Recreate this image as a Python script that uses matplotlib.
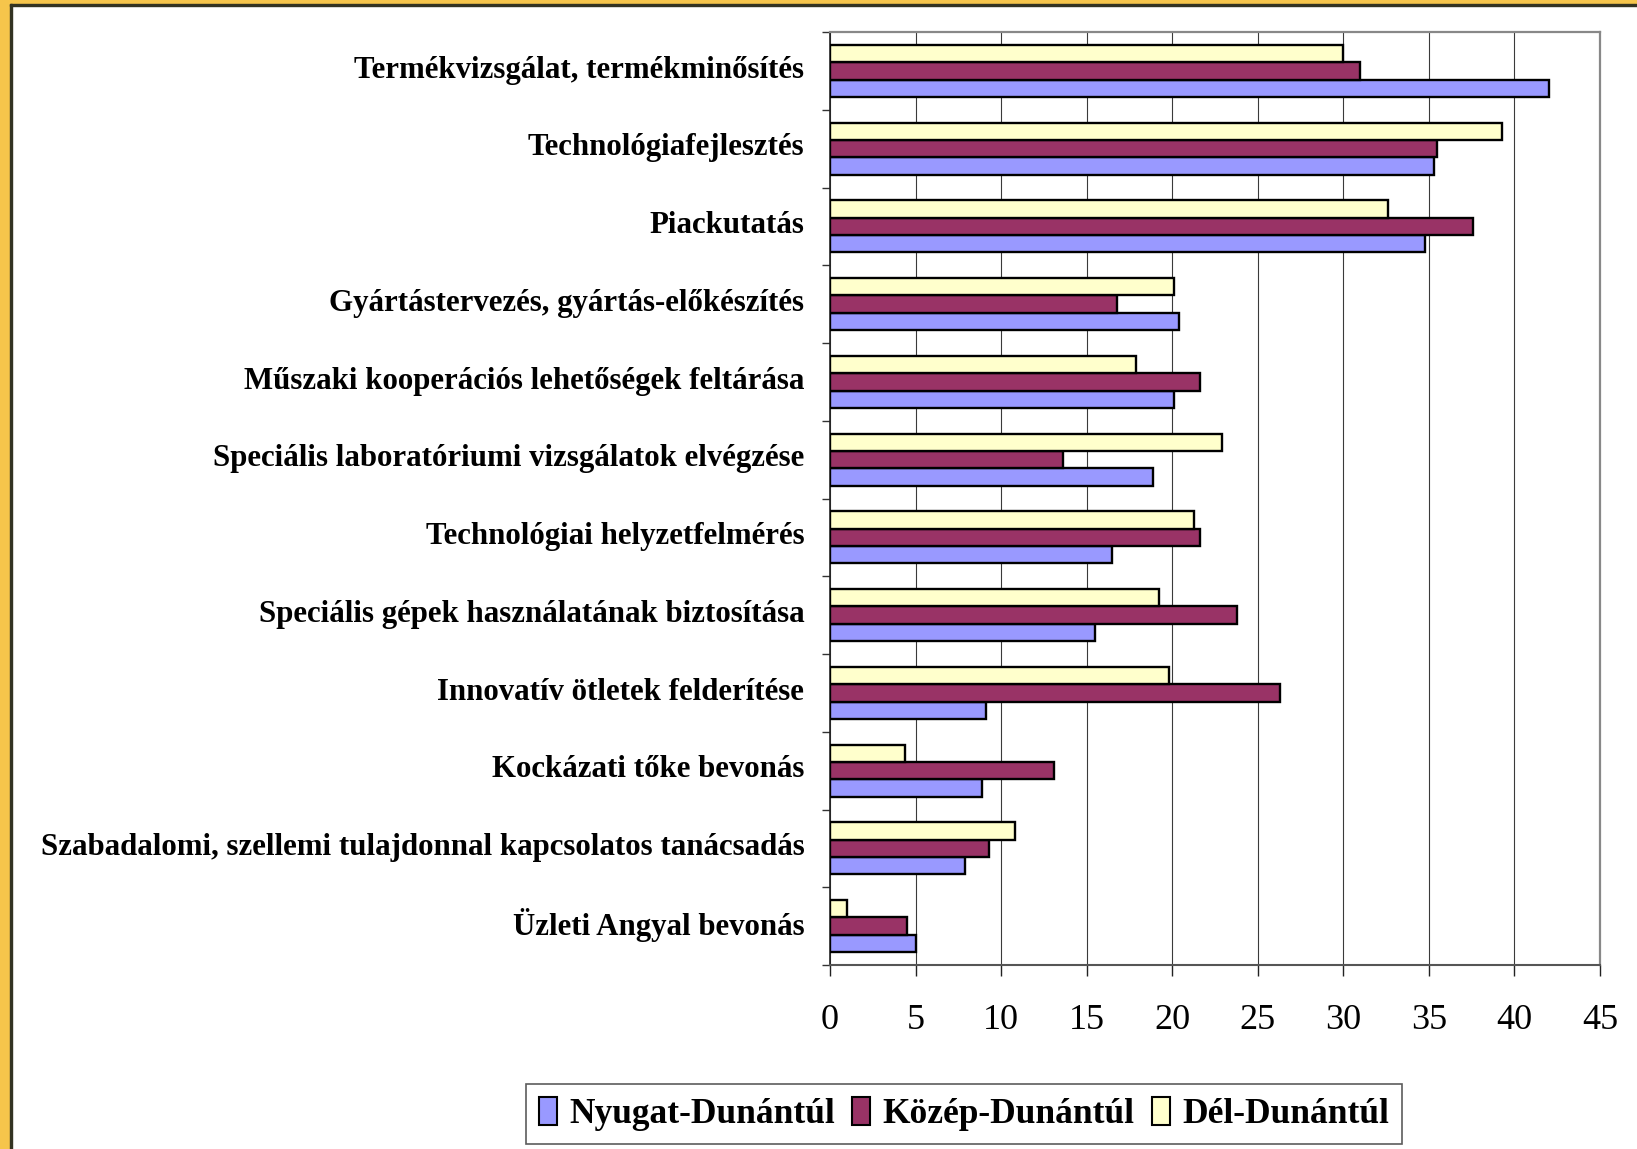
import matplotlib.pyplot as plt
import numpy as np
from matplotlib.patches import Rectangle
from matplotlib.transforms import ScaledTranslation

# categories, top to bottom as they appear
categories = [
    "Termékvizsgálat, termékminősítés",
    "Technológiafejlesztés",
    "Piackutatás",
    "Gyártástervezés, gyártás-előkészítés",
    "Műszaki kooperációs lehetőségek feltárása",
    "Speciális laboratóriumi vizsgálatok elvégzése",
    "Technológiai helyzetfelmérés",
    "Speciális gépek használatának biztosítása",
    "Innovatív ötletek felderítése",
    "Kockázati tőke bevonás",
    "Szabadalomi, szellemi tulajdonnal kapcsolatos tanácsadás",
    "Üzleti Angyal bevonás",
]
nyugat = [42.0, 35.3, 34.8, 20.4, 20.1, 18.9, 16.5, 15.5, 9.1, 8.9, 7.9, 5.0]
kozep = [31.0, 35.5, 37.6, 16.8, 21.6, 13.6, 21.6, 23.8, 26.3, 13.1, 9.3, 4.5]
del_ = [30.0, 39.3, 32.6, 20.1, 17.9, 22.9, 21.3, 19.2, 19.8, 4.4, 10.8, 1.0]
series_names = ["Nyugat-Dunántúl", "Közép-Dunántúl", "Dél-Dunántúl"]
xticks = [0, 5, 10, 15, 20, 25, 30, 35, 40, 45]

W, H = 1637, 1149
fig = plt.figure(figsize=(W / 100, H / 100), dpi=100)
fig.patch.set_facecolor("white")

serif = ["Liberation Serif", "DejaVu Serif"]

ax = fig.add_axes([830 / W, 1 - 965 / H, 770 / W, 933 / H])

y = np.arange(len(categories))
h = 0.222
edge = dict(edgecolor="black", linewidth=1.7)
ax.barh(y + h, nyugat, height=h, color="#9999FF", label=series_names[0], zorder=3, **edge)
ax.barh(y, kozep, height=h, color="#993366", label=series_names[1], zorder=3, **edge)
ax.barh(y - h, del_, height=h, color="#FFFFCC", label=series_names[2], zorder=3, **edge)

ax.set_xlim(0, 45)
ax.set_ylim(len(categories) - 0.5, -0.5)

# gridlines
ax.set_xticks(xticks)
ax.xaxis.grid(True, color="#3a3a3a", linewidth=0.8, zorder=0)
ax.set_axisbelow(True)

# y ticks on category boundaries, labels in the middle
ax.set_yticks(y)
ax.set_yticklabels(categories, fontsize=22.2, fontweight="bold", family=serif)
ax.set_yticks(np.arange(len(categories) + 1) - 0.5, minor=True)
ax.tick_params(axis="y", which="major", length=0, pad=18.5)
ax.tick_params(axis="y", which="minor", length=6, width=1, color="#333333")
up = ScaledTranslation(0, 3 / 72, fig.dpi_scale_trans)
for lab in ax.get_yticklabels():
    lab.set_transform(lab.get_transform() + up)

ax.set_xticklabels([str(v) for v in xticks], fontsize=26, family=serif)
ax.tick_params(axis="x", length=8, width=1, color="#222222", pad=20)

for s in ["top", "right"]:
    ax.spines[s].set_color("#888888")
    ax.spines[s].set_linewidth(1.6)
ax.spines["left"].set_color("#222222")
ax.spines["left"].set_linewidth(1.2)
ax.spines["bottom"].set_color("#555555")
ax.spines["bottom"].set_linewidth(1.5)

leg = fig.legend(
    loc="center",
    bbox_to_anchor=(964 / W, 1 - 1114 / H),
    ncol=3,
    prop={"family": serif, "weight": "bold", "size": 25.5},
    frameon=True,
    fancybox=False,
    handlelength=0.5,
    handleheight=0.85,
    handletextpad=0.35,
    columnspacing=0.5,
    borderpad=0.35,
    borderaxespad=0,
)
leg.get_frame().set_edgecolor("#333333")
leg.get_frame().set_linewidth(1.2)
for p in leg.get_patches():
    p.set_linewidth(1.5)

# yellow frame at left and top
fig.add_artist(Rectangle((0, 0), 10 / W, 1, transform=fig.transFigure, color="#F6C54B", zorder=10))
fig.add_artist(Rectangle((0, 1 - 4 / H), 1, 4 / H, transform=fig.transFigure, color="#F6C54B", zorder=10))
fig.add_artist(Rectangle((10 / W, 0), 1.6 / W, 1 - 4 / H, transform=fig.transFigure, color="#333322", zorder=10))
fig.add_artist(Rectangle((10 / W, 1 - 5.6 / H), 1, 1.6 / H, transform=fig.transFigure, color="#333322", zorder=10))

fig.savefig("out.png", dpi=100)
